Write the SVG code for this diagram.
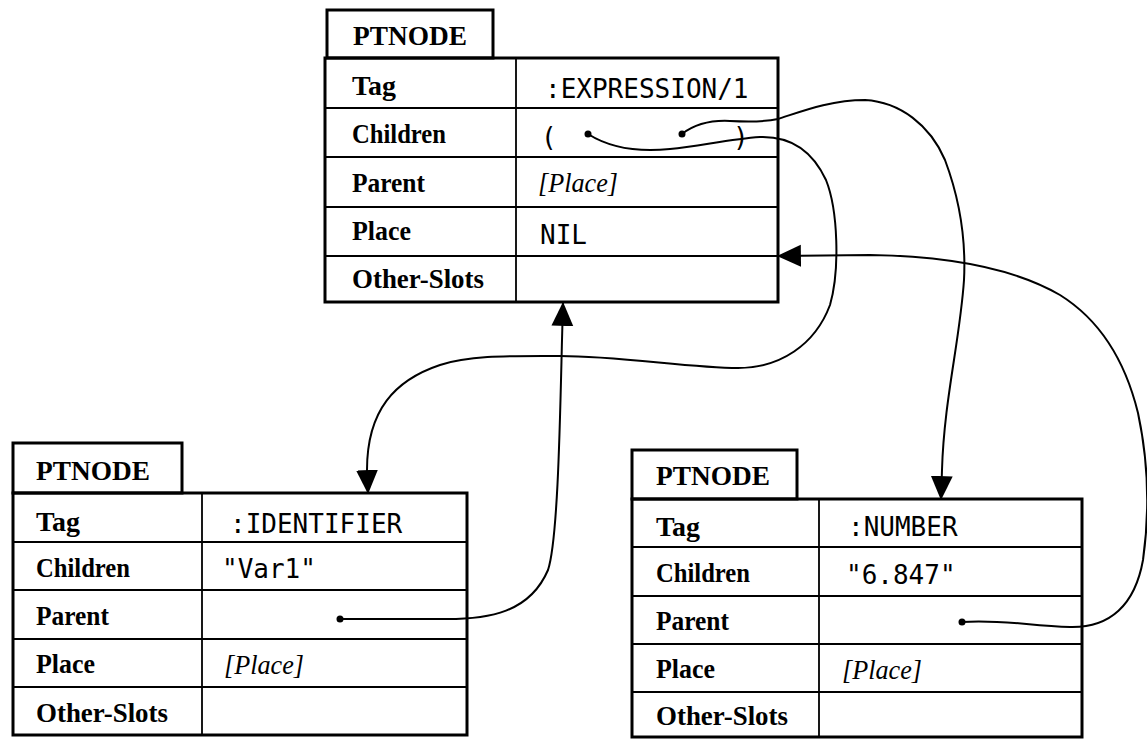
<svg xmlns="http://www.w3.org/2000/svg" width="1147" height="739" viewBox="0 0 1147 739">
<style>
.bg{fill:#fff}
.box{fill:none;stroke:#000;stroke-width:3}
.grid{fill:none;stroke:#000;stroke-width:1.8}
.lbl{font-family:"Liberation Serif",serif;font-weight:bold;font-size:28px;fill:#000}
.it{font-family:"Liberation Serif",serif;font-style:italic;font-size:27px;fill:#000}
.mono{font-family:"DejaVu Sans Mono",monospace;font-size:26px;fill:#000}
.wire{fill:none;stroke:#000;stroke-width:2;marker-start:url(#dot);marker-end:url(#arr)}
</style>
<defs>
<marker id="arr" markerUnits="userSpaceOnUse" markerWidth="24" markerHeight="24" viewBox="0 0 22 20" refX="21" refY="10" orient="auto"><path d="M0,0 L22,10 L0,20 z" fill="#000"/></marker>
<marker id="dot" markerUnits="userSpaceOnUse" markerWidth="10" markerHeight="10" viewBox="0 0 10 10" refX="5" refY="5"><circle cx="5" cy="5" r="3.5" fill="#000"/></marker>
</defs>
<rect class="bg" x="0" y="0" width="1147" height="739"/>

<g id="node-expression">
<rect class="box" x="327" y="10" width="166" height="48"/>
<rect class="box" x="325" y="58" width="453" height="244"/>
<path class="grid" d="M516,58V302 M325,108H778 M325,157H778 M325,207H778 M325,256H778"/>
<text class="lbl" x="353" y="45" textLength="114" lengthAdjust="spacingAndGlyphs">PTNODE</text>
<text class="lbl" x="352" y="95" textLength="44" lengthAdjust="spacingAndGlyphs">Tag</text>
<text class="lbl" x="352" y="143" textLength="94" lengthAdjust="spacingAndGlyphs">Children</text>
<text class="lbl" x="352" y="192" textLength="73" lengthAdjust="spacingAndGlyphs">Parent</text>
<text class="lbl" x="352" y="240" textLength="59" lengthAdjust="spacingAndGlyphs">Place</text>
<text class="lbl" x="352" y="288" textLength="132" lengthAdjust="spacingAndGlyphs">Other-Slots</text>
<text class="mono" x="545" y="98">:EXPRESSION/1</text>
<text class="mono" x="541" y="146">(</text>
<text class="mono" x="733" y="146">)</text>
<text class="it" x="538" y="192" textLength="80" lengthAdjust="spacingAndGlyphs">[Place]</text>
<text class="mono" x="540" y="244">NIL</text>
</g>

<g id="node-identifier">
<rect class="box" x="13" y="443" width="169" height="50"/>
<rect class="box" x="13" y="493" width="454" height="242"/>
<path class="grid" d="M202,493V735 M13,542H467 M13,590H467 M13,639H467 M13,687H467"/>
<text class="lbl" x="36" y="480" textLength="114" lengthAdjust="spacingAndGlyphs">PTNODE</text>
<text class="lbl" x="36" y="531" textLength="44" lengthAdjust="spacingAndGlyphs">Tag</text>
<text class="lbl" x="36" y="577" textLength="94" lengthAdjust="spacingAndGlyphs">Children</text>
<text class="lbl" x="36" y="625" textLength="73" lengthAdjust="spacingAndGlyphs">Parent</text>
<text class="lbl" x="36" y="673" textLength="59" lengthAdjust="spacingAndGlyphs">Place</text>
<text class="lbl" x="36" y="722" textLength="132" lengthAdjust="spacingAndGlyphs">Other-Slots</text>
<text class="mono" x="230" y="533">:IDENTIFIER</text>
<text class="mono" x="222" y="578">"Var1"</text>
<text class="it" x="224" y="674" textLength="80" lengthAdjust="spacingAndGlyphs">[Place]</text>
</g>

<g id="node-number">
<rect class="box" x="632" y="450" width="165" height="49"/>
<rect class="box" x="632" y="499" width="450" height="238"/>
<path class="grid" d="M819,499V737 M632,547H1082 M632,596H1082 M632,644H1082 M632,692H1082"/>
<text class="lbl" x="656" y="485" textLength="114" lengthAdjust="spacingAndGlyphs">PTNODE</text>
<text class="lbl" x="656" y="536" textLength="44" lengthAdjust="spacingAndGlyphs">Tag</text>
<text class="lbl" x="656" y="582" textLength="94" lengthAdjust="spacingAndGlyphs">Children</text>
<text class="lbl" x="656" y="630" textLength="73" lengthAdjust="spacingAndGlyphs">Parent</text>
<text class="lbl" x="656" y="678" textLength="59" lengthAdjust="spacingAndGlyphs">Place</text>
<text class="lbl" x="656" y="725" textLength="132" lengthAdjust="spacingAndGlyphs">Other-Slots</text>
<text class="mono" x="848" y="536">:NUMBER</text>
<text class="mono" x="846" y="584">"6.847"</text>
<text class="it" x="842" y="679" textLength="80" lengthAdjust="spacingAndGlyphs">[Place]</text>
</g>

<g id="connectors">
<path class="wire" d="M682,134 C695,124 710,120 730,121 C750,122 765,122 778,119 C800,112 830,100 865,100 C900,102 930,125 945,160 C960,200 966,240 964,280 C960,340 944,400 942,470 L941,499"/>
<path class="wire" d="M588,134 C610,148 640,152 670,149 C700,146 730,139 760,137 C790,136 812,150 826,180 C838,210 840,270 830,305 C815,345 780,368 738,368 C690,368 620,356 560,356 C510,356 470,355 440,365 C395,380 367,410 367,470 L368,493"/>
<path class="wire" d="M340,619 L440,619 C490,620 530,612 548,570 C558,540 560,420 562,340 L563,303"/>
<path class="wire" d="M962,622 C1000,619 1030,626 1070,627 C1110,628 1135,605 1143,560 C1150,510 1148,460 1138,413 C1125,360 1100,320 1060,295 C1010,266 940,256 870,255 L778,256"/>
</g>
</svg>
